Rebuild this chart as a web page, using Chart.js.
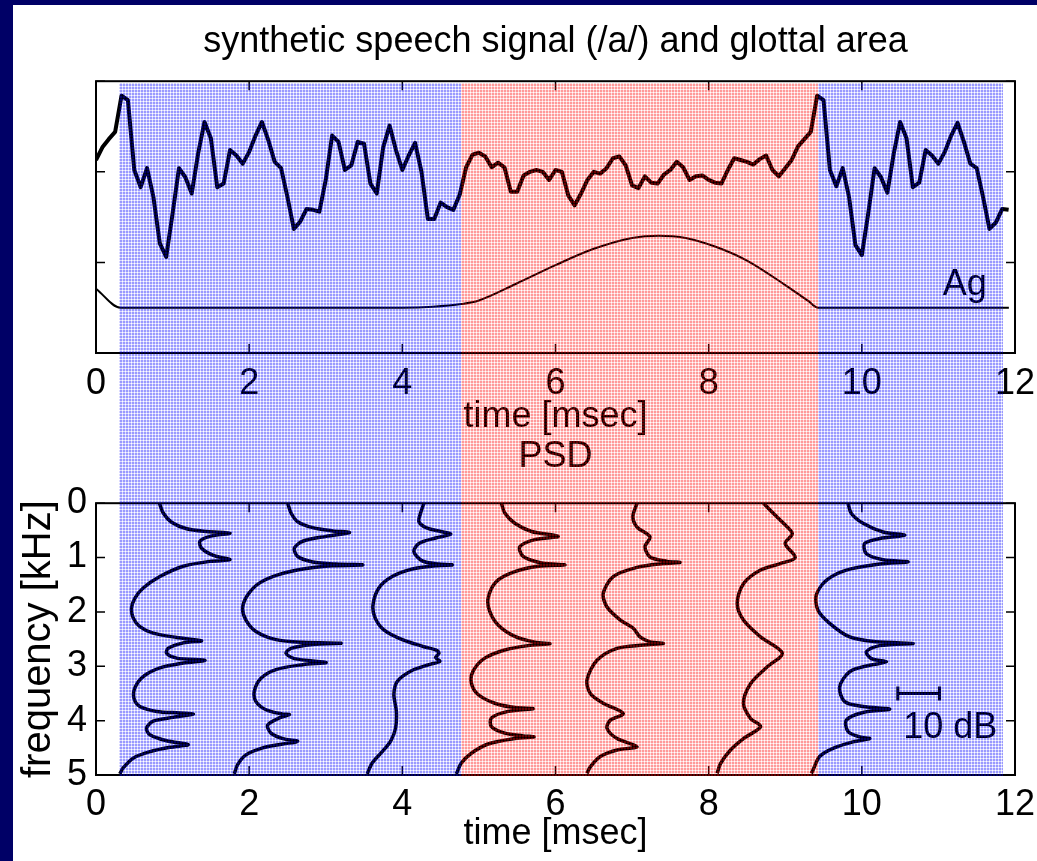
<!DOCTYPE html>
<html>
<head>
<meta charset="utf-8">
<script src="https://cdn.jsdelivr.net/npm/chart.js@4.4.1/dist/chart.umd.min.js"></script>
<style>
html,body{margin:0;padding:0;width:1037px;height:861px;overflow:hidden;background:#000066;}
#paper{position:absolute;left:13px;top:5px;width:1024px;height:856px;background:#ffffff;}
canvas{position:absolute;left:0;}
#c1{top:0;}
#c2{top:430px;}
#ov{top:0;pointer-events:none;}
</style>
</head>
<body>
<div id="paper"></div>
<canvas id="c1" width="1037" height="440"></canvas>
<canvas id="c2" width="1037" height="431"></canvas>
<canvas id="ov" width="1037" height="861"></canvas>
<script>
// ---------------- data ----------------
const samplesPerMs = 12;            // speech signal sampling (12 kHz)
const speechSignal = [
 2.13,2.27,2.36,2.44,2.84,2.79,2.02,1.83,2.04,1.72,1.21,1.06,1.54,2.04,1.94,1.76,2.20,2.55,2.37,1.83,
 1.87,2.24,2.18,2.09,2.22,2.40,2.55,2.35,2.11,2.04,1.72,1.37,1.45,1.59,1.58,1.56,1.91,2.40,2.33,2.02,
 2.07,2.33,2.31,1.87,1.76,2.27,2.51,2.24,2.02,2.18,2.32,2.00,1.48,1.48,1.66,1.61,1.58,1.75,2.05,2.19,
 2.21,2.17,2.05,2.10,2.05,1.78,1.78,1.96,2.00,2.02,2.00,1.91,2.02,2.00,1.74,1.63,1.76,1.91,2.00,1.98,
 2.04,2.15,2.17,2.07,1.85,1.82,1.95,1.88,1.87,1.97,2.02,2.11,2.05,1.91,1.95,1.96,1.91,1.88,1.87,2.02,
 2.15,2.13,2.11,2.08,2.14,2.18,2.02,1.95,2.04,2.13,2.28,2.36,2.44,2.84,2.79,2.02,1.84,2.04,1.72,1.19,
 1.08,1.54,2.04,1.94,1.77,2.20,2.55,2.37,1.83,1.88,2.24,2.18,2.09,2.22,2.40,2.54,2.33,2.09,2.04,1.72,
 1.37,1.44,1.59,1.58
];
const agTime = [0, 0.32, 4.0, 4.4, 4.77, 5.0, 5.5, 6.0, 6.5, 7.0, 7.35, 7.7, 8.1, 8.5, 9.0, 9.3, 9.43, 11.92];
const agArea = [0.71, 0.50, 0.50, 0.51, 0.54, 0.58, 0.77, 0.97, 1.15, 1.27, 1.295, 1.27, 1.17, 1.02, 0.75, 0.575, 0.50, 0.50];

const timeTicks = [0, 2, 4, 6, 8, 10, 12];
const ampTicks = [0, 1, 2, 3];
const freqTicks = [0, 1, 2, 3, 4, 5];

const phaseStart = [0.30, 4.77, 9.43];
const phaseEnd   = [4.77, 9.43, 11.84];
const phaseName  = ['closed', 'open', 'closed'];

const psdFrameTime = [0.30, 1.80, 3.53, 4.70, 6.40, 8.10, 9.34];
const msPer10dB = 0.545;

const frame1Freq = [0.00,0.18,0.35,0.47,0.52,0.55,0.61,0.70,0.83,0.96,1.04,1.07,1.16,1.35,1.56,1.75,1.93,2.11,2.27,2.39,2.47,2.53,2.57,2.67,2.76,2.85,2.89,2.94,3.03,3.19,3.40,3.59,3.74,3.83,3.86,3.88,3.94,4.01,4.14,4.26,4.37,4.44,4.49,4.57,4.69,4.87,4.98];
const frame1Db   = [9.7,10.6,12.6,16.2,21.0,26.6,21.8,19.4,19.8,22.6,26.6,21.8,15.4,9.8,5.8,3.8,3.0,3.4,5.0,8.2,13.8,19.8,15.4,11.8,11.4,13.8,20.6,15.4,9.8,5.8,3.8,3.6,5.0,9.0,14.6,17.8,13.0,8.2,6.6,7.4,11.4,16.6,12.2,7.4,3.4,1.0,0.2];
const frame2Freq = [0.00,0.18,0.34,0.45,0.51,0.54,0.61,0.70,0.83,0.98,1.08,1.12,1.135,1.15,1.20,1.31,1.47,1.69,1.93,2.15,2.36,2.51,2.56,2.575,2.60,2.67,2.76,2.86,2.93,2.97,3.06,3.22,3.46,3.65,3.80,3.88,3.89,3.95,4.08,4.23,4.33,4.38,4.43,4.50,4.63,4.81,4.98];
const frame2Db   = [12.9,13.7,15.3,18.9,23.7,27.7,22.1,16.5,14.5,15.3,18.9,24.5,30.9,23.7,17.3,10.9,6.1,3.3,2.1,2.9,5.3,10.1,16.5,25.7,18.9,13.7,12.5,14.5,22.1,16.5,10.1,6.5,4.9,5.3,7.7,11.7,13.3,10.9,8.1,8.9,11.7,15.3,11.7,6.9,2.9,0.9,0.1];
const frame3Freq = [0.00,0.18,0.34,0.46,0.52,0.57,0.64,0.74,0.89,1.06,1.12,1.135,1.15,1.21,1.35,1.56,1.87,2.11,2.33,2.51,2.64,2.70,2.76,2.84,2.91,2.97,3.09,3.28,3.52,3.83,4.14,4.38,4.57,4.78,4.98];
const frame3Db   = [13.8,13.0,12.6,14.6,17.8,20.2,16.6,12.6,11.4,13.4,17.4,20.6,16.6,11.0,6.2,3.0,1.6,2.1,4.2,8.6,13.8,16.6,17.4,16.6,17.6,15.0,10.6,7.4,6.6,7.2,7.0,5.8,3.8,1.4,0.2];
const frame4Freq = [0.00,0.18,0.37,0.52,0.61,0.67,0.80,0.98,1.10,1.135,1.16,1.26,1.44,1.75,1.99,2.24,2.45,2.555,2.585,2.62,2.70,2.85,3.09,3.31,3.52,3.68,3.76,3.78,3.83,3.95,4.11,4.23,4.28,4.30,4.33,4.43,4.60,4.78,4.98];
const frame4Db   = [10.9,11.7,14.1,18.1,24.5,18.9,15.3,16.1,20.5,26.1,19.7,14.1,9.7,7.7,8.1,10.1,14.1,18.9,22.5,17.3,11.7,6.9,4.1,3.7,5.3,9.3,14.1,18.5,12.5,8.5,8.5,11.7,16.1,18.7,14.1,7.7,3.7,1.3,0.1];
const frame5Freq = [0.00,0.25,0.44,0.62,0.80,0.99,1.07,1.09,1.11,1.18,1.35,1.66,1.91,2.15,2.30,2.46,2.55,2.58,2.61,2.67,2.89,3.25,3.50,3.68,3.87,3.99,4.14,4.33,4.48,4.54,4.66,4.85,4.97];
const frame5Db   = [12.2,11.2,12.2,15.3,14.1,15.3,19.4,22.5,18.5,12.2,6.5,4.1,5.0,8.2,11.3,12.9,15.3,18.5,13.7,7.4,2.6,0.2,1.0,4.1,8.9,5.8,5.0,7.4,12.2,7.4,3.4,1.0,0.2];
const frame6Freq = [0.00,0.19,0.37,0.56,0.74,1.00,1.11,1.23,1.48,1.84,2.15,2.46,2.76,3.01,3.32,3.68,3.96,4.11,4.33,4.54,4.79,4.97];
const frame6Db   = [11.3,13.7,16.1,18.2,16.5,18.9,15.3,10.6,6.5,5.0,6.5,10.6,15.8,12.2,8.2,6.5,8.2,10.6,6.5,3.4,1.0,0.2];
const frame7Freq = [0.00,0.19,0.37,0.53,0.59,0.65,0.74,0.93,1.04,1.08,1.12,1.23,1.42,1.69,1.97,2.21,2.46,2.55,2.58,2.62,2.73,2.86,2.92,2.98,3.10,3.38,3.65,3.74,3.79,3.85,3.99,4.20,4.30,4.33,4.39,4.51,4.66,4.91,4.97];
const frame7Db   = [8.8,9.6,12.4,17.2,22.4,16.4,12.8,13.2,17.2,23.2,16.4,8.4,3.6,1.2,1.6,4.4,9.2,15.6,24.4,16.4,13.2,14.4,18.0,14.0,9.2,6.8,8.0,12.4,18.8,12.4,8.4,8.8,11.6,14.0,10.0,5.2,2.0,0.4,0.0];

const frameFreqs = [frame1Freq, frame2Freq, frame3Freq, frame4Freq, frame5Freq, frame6Freq, frame7Freq];
const frameDbs   = [frame1Db, frame2Db, frame3Db, frame4Db, frame5Db, frame6Db, frame7Db];

// ---------------- style ----------------
const FONT = "'Liberation Sans', Arial, Helvetica, sans-serif";
const FS = 36;
Chart.defaults.font.family = FONT;
Chart.defaults.font.size = FS;
Chart.defaults.color = '#000';
const TICK_LEN = 9;

const boxPlugin = {
  id: 'boxTicks',
  afterDatasetsDraw(chart) {
    const {ctx, chartArea: a} = chart;
    const xs = chart.scales.x, ys = chart.scales.y;
    ctx.save();
    ctx.strokeStyle = '#000';
    ctx.lineWidth = 1.5;
    ctx.beginPath();
    xs.ticks.forEach(t => {
      const px = xs.getPixelForValue(t.value);
      ctx.moveTo(px, a.top); ctx.lineTo(px, a.top + TICK_LEN);
      ctx.moveTo(px, a.bottom); ctx.lineTo(px, a.bottom - TICK_LEN);
    });
    ys.ticks.forEach(t => {
      const py = ys.getPixelForValue(t.value);
      ctx.moveTo(a.left, py); ctx.lineTo(a.left + TICK_LEN, py);
      ctx.moveTo(a.right, py); ctx.lineTo(a.right - TICK_LEN, py);
    });
    ctx.stroke();
    ctx.lineWidth = 2;
    ctx.strokeRect(a.left, a.top, a.right - a.left, a.bottom - a.top);
    ctx.restore();
  }
};

const agLabelPlugin = {
  id: 'agLabel',
  afterDatasetsDraw(chart) {
    const {ctx} = chart;
    const xs = chart.scales.x, ys = chart.scales.y;
    ctx.save();
    ctx.font = FS + 'px ' + FONT;
    ctx.fillStyle = '#000';
    ctx.textAlign = 'right';
    ctx.textBaseline = 'alphabetic';
    ctx.fillText('Ag', xs.getPixelForValue(11.63), ys.getPixelForValue(0.64));
    ctx.restore();
  }
};

const dbBarPlugin = {
  id: 'dbBar',
  afterDatasetsDraw(chart) {
    const {ctx} = chart;
    const xs = chart.scales.x, ys = chart.scales.y;
    const x0 = xs.getPixelForValue(10.47), x1 = xs.getPixelForValue(10.47 + msPer10dB);
    const y = ys.getPixelForValue(3.50);
    ctx.save();
    ctx.strokeStyle = '#000';
    ctx.lineWidth = 3;
    ctx.beginPath();
    ctx.moveTo(x0, y); ctx.lineTo(x1, y);
    ctx.moveTo(x0, y - 7); ctx.lineTo(x0, y + 7);
    ctx.moveTo(x1, y - 7); ctx.lineTo(x1, y + 7);
    ctx.stroke();
    ctx.font = FS + 'px ' + FONT;
    ctx.fillStyle = '#000';
    ctx.textAlign = 'left';
    ctx.textBaseline = 'alphabetic';
    ctx.fillText('10 dB', xs.getPixelForValue(10.54), ys.getPixelForValue(4.32));
    ctx.restore();
  }
};

const noPad = s => { s.paddingLeft = 0; s.paddingRight = 0; };

// ---------------- top chart ----------------
const signalPoints = speechSignal.map((v, i) => ({x: i / samplesPerMs, y: v}));
const agPoints = agTime.map((t, i) => ({x: t, y: agArea[i]}));

const topChart = new Chart(document.getElementById('c1'), {
  type: 'line',
  data: {
    datasets: [
      {data: signalPoints, borderColor: '#000', borderWidth: 4, pointRadius: 0, tension: 0, borderJoinStyle: 'round'},
      {data: agPoints, borderColor: '#000', borderWidth: 2, pointRadius: 0, cubicInterpolationMode: 'monotone'}
    ]
  },
  options: {
    responsive: false, animation: false, devicePixelRatio: 1,
    events: [],
    layout: {autoPadding: false, padding: {left: 0, right: 22, top: 0, bottom: 0}},
    plugins: {
      legend: {display: false}, tooltip: {enabled: false},
      title: {display: true, fullSize: false, text: 'synthetic speech signal (/a/) and glottal area',
               font: {size: FS, weight: 'normal'}, color: '#000', padding: {top: 20, bottom: 18}}
    },
    scales: {
      x: {
        type: 'linear', min: 0, max: 12,
        afterBuildTicks: s => { s.ticks = timeTicks.map(v => ({value: v})); },
        ticks: {padding: 9, maxRotation: 0, autoSkip: false, color: '#000', font: {size: FS}},
        grid: {display: false, drawTicks: false}, border: {display: false},
        title: {display: true, text: 'time [msec]', color: '#000', font: {size: FS}, padding: {top: 0, bottom: 1}},
        afterFit: s => { s.height = 87; noPad(s); }
      },
      y: {
        type: 'linear', min: 0, max: 3,
        afterBuildTicks: s => { s.ticks = ampTicks.map(v => ({value: v})); },
        ticks: {display: false},
        grid: {display: false, drawTicks: false}, border: {display: false},
        afterFit: s => { s.width = 96; s.paddingTop = 0; s.paddingBottom = 0; }
      }
    }
  },
  plugins: [boxPlugin, agLabelPlugin]
});

// ---------------- bottom chart ----------------
const psdDatasets = frameFreqs.map((freqs, k) => ({
  data: freqs.map((f, i) => ({x: psdFrameTime[k] + frameDbs[k][i] * msPer10dB / 10, y: f})),
  borderColor: '#000', borderWidth: 3.5, pointRadius: 0, tension: 0.3, borderJoinStyle: 'round'
}));

const bottomChart = new Chart(document.getElementById('c2'), {
  type: 'line',
  data: {datasets: psdDatasets},
  options: {
    responsive: false, animation: false, devicePixelRatio: 1,
    events: [],
    layout: {autoPadding: false, padding: {left: 0, right: 22, top: 0, bottom: 0}},
    plugins: {
      legend: {display: false}, tooltip: {enabled: false},
      title: {display: true, fullSize: false, text: 'PSD', font: {size: FS, weight: 'normal'}, color: '#000', padding: {top: 5, bottom: 25}}
    },
    scales: {
      x: {
        type: 'linear', min: 0, max: 12,
        afterBuildTicks: s => { s.ticks = timeTicks.map(v => ({value: v})); },
        ticks: {padding: 8, maxRotation: 0, autoSkip: false, color: '#000', font: {size: FS}},
        grid: {display: false, drawTicks: false}, border: {display: false},
        title: {display: true, text: 'time [msec]', color: '#000', font: {size: FS}, padding: {top: 0, bottom: 5}},
        afterFit: s => { s.height = 86; noPad(s); }
      },
      y: {
        type: 'linear', min: 0, max: 5, reverse: true,
        afterBuildTicks: s => { s.ticks = freqTicks.map(v => ({value: v})); },
        ticks: {padding: 9, color: '#000', font: {size: FS}},
        grid: {display: false, drawTicks: false}, border: {display: false},
        title: {display: true, text: 'frequency [kHz]', color: '#000', font: {size: 40}, padding: {top: 15, bottom: 0}},
        afterFit: s => { s.width = 96; s.paddingTop = 0; s.paddingBottom = 0; }
      }
    }
  },
  plugins: [boxPlugin, dbBarPlugin]
});

// ---------------- phase shading overlay ----------------
function makePattern(rgb) {
  const t = document.createElement('canvas');
  t.width = 3; t.height = 3;
  const c = t.getContext('2d');
  c.fillStyle = 'rgba(' + rgb.join(',') + ',0.40)';
  c.fillRect(0, 0, 2, 2);
  c.fillStyle = 'rgba(' + rgb.join(',') + ',0.15)';
  c.fillRect(2, 0, 1, 2);
  c.fillRect(0, 2, 2, 1);
  return t;
}
(function drawOverlay() {
  const ov = document.getElementById('ov');
  const ctx = ov.getContext('2d');
  const xs = topChart.scales.x;
  const top = Math.round(topChart.chartArea.top + 2);
  const bottom = Math.round(430 + bottomChart.chartArea.bottom + 1);
  phaseStart.forEach((s, i) => {
    const x0 = Math.round(xs.getPixelForValue(s));
    const x1 = Math.round(xs.getPixelForValue(phaseEnd[i]));
    const rgb = phaseName[i] === 'open' ? [255, 0, 0] : [0, 0, 255];
    ctx.fillStyle = ctx.createPattern(makePattern(rgb), 'repeat');
    ctx.fillRect(x0, top, x1 - x0, bottom - top);
  });
})();
</script>
</body>
</html>
